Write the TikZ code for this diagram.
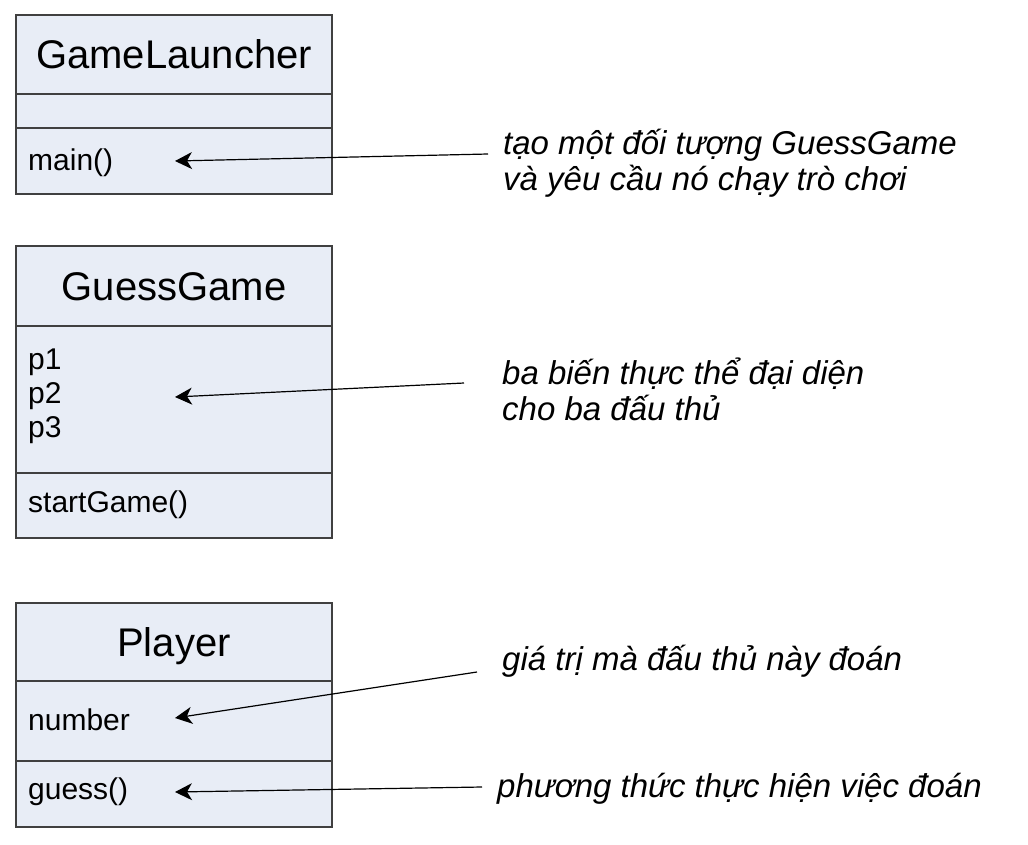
\documentclass[tikz,border=0pt]{standalone}
\usepackage{fontspec}
\setmainfont{Liberation Sans}
\usetikzlibrary{arrows.meta}
\definecolor{boxfill}{RGB}{232,237,246}
\definecolor{boxline}{RGB}{64,64,64}

\begin{document}
\begin{tikzpicture}[x=1pt, y=-1pt,
    umlbox/.style={draw=boxline, line width=1.3pt, fill=boxfill},
    divider/.style={draw=boxline, line width=1.3pt},
    classname/.style={anchor=base, inner sep=0pt, font=\fontsize{40}{48}\selectfont},
    member/.style={anchor=base west, inner sep=0pt, align=left, font=\fontsize{30}{34}\selectfont},
    note/.style={anchor=base west, inner sep=0pt, align=left, font=\fontsize{33}{36}\selectfont\itshape},
    pointer/.style={line width=1.2pt, -{Stealth[length=17pt, width=17pt, inset=5pt]}}
]

\def\bl{16}
\def\br{332}
\def\mx{28}
\def\tip{175}

\useasboundingbox (0,0) rectangle (1028,844);

%class boxes
\foreach \top/\bot in {15/194, 246/538, 603/827}{
    \draw[umlbox] (\bl,\top) rectangle (\br,\bot);
}

%dividers
\foreach \y in {94, 128, 326, 473, 681, 761}{
    \draw[divider] (\bl,\y) -- (\br,\y);
}

%class names
\node[classname] (launcher) at ({(\bl+\br)/2},68) {GameLauncher};
\node[classname] (game) at ({(\bl+\br)/2},300) {GuessGame};
\node[classname] (player) at ({(\bl+\br)/2},656) {Player};

%members (base = last line)
\node[member] (main) at (\mx,170) {main()};
\node[member] (pvars) at (\mx,437) {p1\\p2\\p3};
\node[member] (start) at (\mx,512) {startGame()};
\node[member] (number) at (\mx,730) {number};
\node[member] (guess) at (\mx,799) {guess()};

%arrow tips
\coordinate (mainTip) at (\tip,161);
\coordinate (pvarsTip) at (\tip,397);
\coordinate (numberTip) at (\tip,718);
\coordinate (guessTip) at (\tip,792);

%notes (base = last line)
\node[note] (note1) at (503,190) {tạo một đối tượng GuessGame\\và yêu cầu nó chạy trò chơi};
\node[note] (note2) at (502,420) {ba biến thực thể đại diện\\cho ba đấu thủ};
\node[note] (note3) at (502,670) {giá trị mà đấu thủ này đoán};
\node[note] (note4) at (497,797) {phương thức thực hiện việc đoán};

%pointers
\draw[pointer] ([shift={(-15,-36)}]note1.base west) -- (mainTip);
\draw[pointer] ([shift={(-38,-37)}]note2.base west) -- (pvarsTip);
\draw[pointer] ([shift={(-25,2)}]note3.base west) -- (numberTip);
\draw[pointer] ([shift={(-15,-10)}]note4.base west) -- (guessTip);

\end{tikzpicture}
\end{document}
